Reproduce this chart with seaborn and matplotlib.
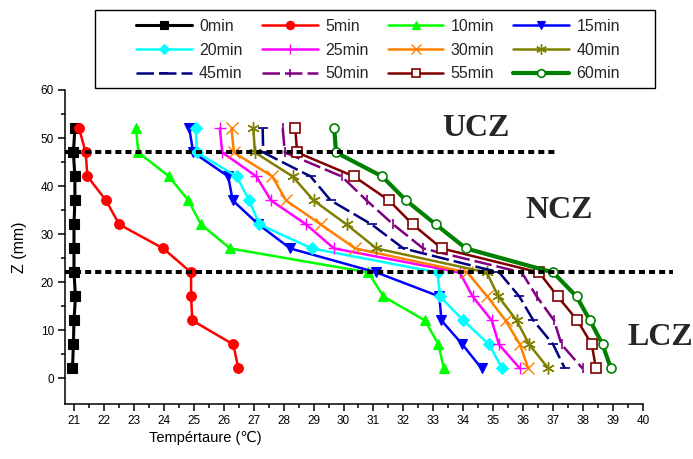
import numpy as np
import pandas as pd
import matplotlib
matplotlib.use("Agg")
import matplotlib.pyplot as plt
from matplotlib.ticker import FixedLocator
from matplotlib.patches import Rectangle
import seaborn as sns

# Depth positions (mm), top to bottom
z_mm = [52, 47, 42, 37, 32, 27, 22, 17, 12, 7, 2]

series_labels = ["0min", "5min", "10min", "15min", "20min", "25min",
                 "30min", "40min", "45min", "50min", "55min", "60min"]

t_0min = [21.03, 20.98, 21.03, 21.03, 21.0, 21.0, 21.0, 21.05, 21.0, 20.98, 20.95]
t_5min = [21.17, 21.39, 21.45, 22.07, 22.51, 23.98, 24.91, 24.91, 24.95, 26.32, 26.49]
t_10min = [23.07, 23.15, 24.17, 24.82, 25.24, 26.21, 30.83, 31.33, 32.72, 33.17, 33.35]
t_15min = [24.85, 24.98, 26.15, 26.30, 27.16, 28.22, 31.10, 33.20, 33.27, 33.97, 34.61]
t_20min = [25.07, 25.10, 26.43, 26.85, 27.19, 28.94, 33.14, 33.22, 34.00, 34.86, 35.30]
t_25min = [25.87, 25.95, 27.09, 27.58, 28.75, 29.68, 33.88, 34.31, 34.95, 35.19, 35.89]
t_30min = [26.26, 26.34, 27.62, 28.08, 29.24, 30.39, 34.13, 34.80, 35.41, 35.89, 36.17]
t_40min = [26.99, 27.04, 28.30, 29.00, 30.10, 31.10, 34.78, 35.17, 35.78, 36.20, 36.84]
t_45min = [27.30, 27.32, 28.90, 29.57, 30.94, 32.00, 35.20, 35.87, 36.34, 37.00, 37.39]
t_50min = [27.97, 28.04, 29.94, 30.77, 31.66, 32.66, 35.95, 36.45, 37.03, 37.28, 37.98]
t_55min = [28.39, 28.45, 30.35, 31.52, 32.31, 33.28, 36.53, 37.15, 37.81, 38.29, 38.43]
t_60min = [29.69, 29.75, 31.29, 32.09, 33.08, 34.09, 37.00, 37.78, 38.23, 38.65, 38.93]

all_temps = [t_0min, t_5min, t_10min, t_15min, t_20min, t_25min,
             t_30min, t_40min, t_45min, t_50min, t_55min, t_60min]

# zone boundaries (mm) and zone labels
boundary_z = [47, 22]
zone_names = ["UCZ", "NCZ", "LCZ"]

# styles
colors = ["#000000", "#FF0000", "#00FF00", "#0000FF", "#00FFFF", "#FF00FF",
          "#FF8000", "#808000", "#000080", "#800080", "#800000", "#008000"]
markers = ["s", "o", "^", "v", "D", "+", "x", (6, 2, 0), "_", "|", "s", "o"]
msizes = [6.5, 7, 7.5, 7.5, 6, 8, 8, 9, 7, 7, 6.5, 6.5]
mews = [0.8, 0.8, 0.8, 0.8, 0.8, 1.0, 1.0, 1.0, 1.2, 1.2, 1.2, 1.2]
lws = [2.2, 1.8, 1.8, 1.8, 1.8, 1.8, 1.8, 1.8, 1.8, 1.8, 1.8, 3.0]
open_face = [False] * 10 + [True, True]
dashed = [False] * 8 + [True, True, False, False]

sns.set_theme(style="ticks")
plt.rcParams['font.family'] = ['Liberation Sans', 'DejaVu Sans']

fig = plt.figure(figsize=(6.93, 4.59), dpi=100)
ax = fig.add_axes([65 / 693, 1 - 404 / 459, 578 / 693, 314 / 459])

for i, (lab, temps) in enumerate(zip(series_labels, all_temps)):
    df = pd.DataFrame({"T": temps, "Z": z_mm})
    kw = dict(color=colors[i], marker=markers[i], markersize=msizes[i],
              markeredgecolor=colors[i], markeredgewidth=mews[i],
              markerfacecolor=("white" if open_face[i] else colors[i]),
              linewidth=lws[i], label=lab, zorder=3 + i * 0.01)
    sns.lineplot(data=df, x="T", y="Z", sort=False, estimator=None, ax=ax, **kw)
    if dashed[i]:
        ax.get_lines()[-1].set_dashes((7, 2))

# zone boundary dotted lines
ax.plot([20.7, 37.13], [boundary_z[0]] * 2, color="black", lw=2.9,
        dashes=(1.5, 1.0), dash_capstyle="butt", clip_on=False, zorder=5)
ax.plot([20.7, 41.0], [boundary_z[1]] * 2, color="black", lw=2.9,
        dashes=(1.5, 1.0), dash_capstyle="butt", clip_on=False, zorder=5)

zone_pos = [(34.42, 51.9), (37.19, 34.8), (40.57, 8.5)]
for name, (tx, tz) in zip(zone_names, zone_pos):
    ax.text(tx, tz, name, ha="center", va="center", fontsize=23,
            fontweight="bold", family=["Liberation Serif", "DejaVu Serif"],
            clip_on=False)

ax.set_xlim(20.7, 40)
ax.set_ylim(-5.4, 60)
ax.xaxis.set_major_locator(FixedLocator(list(range(21, 41))))
ax.xaxis.set_minor_locator(FixedLocator([x + 0.5 for x in range(20, 40)]))
ax.yaxis.set_major_locator(FixedLocator(list(range(0, 61, 10))))
ax.yaxis.set_minor_locator(FixedLocator(list(range(5, 60, 10))))

ax.tick_params(axis="both", which="major", direction="out", length=5,
               width=1.1, color="black", labelsize=8.5, labelcolor="black", pad=3)
ax.tick_params(axis="both", which="minor", direction="out", length=3,
               width=1.1, color="black")
for side in ["top", "right"]:
    ax.spines[side].set_visible(False)
for side in ["left", "bottom"]:
    ax.spines[side].set_color("black")
    ax.spines[side].set_linewidth(1.1)
ax.grid(False)
ax.set_facecolor("white")

ax.set_xlabel("Tempértaure (℃)", fontsize=10.5, color="black", ha="center", va="top")
ax.xaxis.set_label_coords(0.242, -0.085)
ax.set_ylabel("Z (mm)", fontsize=11.5, color="black")
ax.yaxis.set_label_coords(-0.066, 0.5)

handles, labels = ax.get_legend_handles_labels()
if ax.get_legend() is not None:
    ax.get_legend().remove()

# legend frame box
fig.patches.append(Rectangle((95 / 693, 1 - 88 / 459), 560 / 693, 78 / 459,
                             transform=fig.transFigure, facecolor="white",
                             edgecolor="black", linewidth=1.0, zorder=0))
order = [0, 4, 8, 1, 5, 9, 2, 6, 10, 3, 7, 11]
leg = fig.legend([handles[k] for k in order], [labels[k] for k in order],
                 ncol=4, loc="center",
                 bbox_to_anchor=(378 / 693, 1 - 50 / 459),
                 fontsize=11.5, frameon=False, handlelength=3.5,
                 handletextpad=0.45, labelspacing=0.55, borderpad=0.2,
                 numpoints=1, columnspacing=1.2, markerscale=0.85)

fig.savefig("out.png", dpi=100, facecolor="white")
